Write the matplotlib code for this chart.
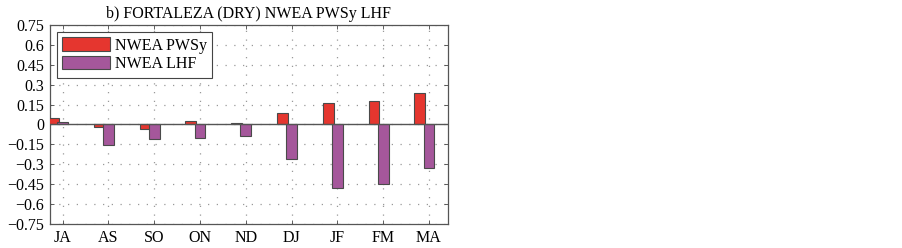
import matplotlib
matplotlib.use('Agg')
import matplotlib.pyplot as plt
import numpy as np

plt.rcParams['font.family'] = ['Liberation Serif', 'DejaVu Serif']

months = ['JA', 'AS', 'SO', 'ON', 'ND', 'DJ', 'JF', 'FM', 'MA']
pwsy = [0.046, -0.021, -0.034, 0.027, 0.015, 0.086, 0.16, 0.177, 0.236]
lhf = [0.016, -0.157, -0.111, -0.099, -0.086, -0.256, -0.477, -0.445, -0.327]
yticks = [0.75, 0.6, 0.45, 0.3, 0.15, 0, -0.15, -0.3, -0.45, -0.6, -0.75]
ylabels = ['0.75', '0.6', '0.45', '0.3', '0.15', '0',
           '\u22120.15', '\u22120.3', '\u22120.45', '\u22120.6', '\u22120.75']

red = '#E5362F'
purple = '#A5579B'
edge = '#4a4a4a'
fs = 11.5

fig = plt.figure(figsize=(9.03, 2.48), dpi=100)
ax = fig.add_axes([0.055, 0.0956, 0.4408, 0.8048])

x = np.arange(1, len(months) + 1)
w = 0.235
ax.bar(x - 0.2, pwsy, w, color=red, edgecolor=edge, linewidth=0.8,
       label='NWEA PWSy', zorder=3)
ax.bar(x, lhf, w, color=purple, edgecolor=edge, linewidth=0.8,
       label='NWEA LHF', zorder=3)
ax.axhline(0, color='#555555', linewidth=1.0, zorder=4)

ax.set_xlim(0.716, 9.41)
ax.set_ylim(-0.75, 0.75)
ax.set_xticks(x)
ax.set_xticklabels(months, fontsize=fs)
ax.set_yticks(yticks)
ax.set_yticklabels(ylabels, fontsize=fs)
ax.tick_params(direction='in', length=3, top=True, right=True, width=0.6,
               colors='#444444', labelcolor='black', pad=4)
# matlab-like sparse dotted grid
ax.grid(True, linestyle=(0, (1, 6)), color='#999999', linewidth=0.9, zorder=0)
for s in ax.spines.values():
    s.set_color('#555555')
    s.set_linewidth(0.9)

ax.set_title('b) FORTALEZA (DRY) NWEA PWSy LHF', fontsize=fs, pad=5)

leg = ax.legend(loc='upper left', fontsize=fs, fancybox=False, framealpha=1,
                edgecolor='#444444', handlelength=2.95, handleheight=0.88,
                borderaxespad=0.45, borderpad=0.35, labelspacing=0.18,
                handletextpad=0.33)
leg.get_frame().set_linewidth(0.8)

fig.savefig('out.png', dpi=100)
